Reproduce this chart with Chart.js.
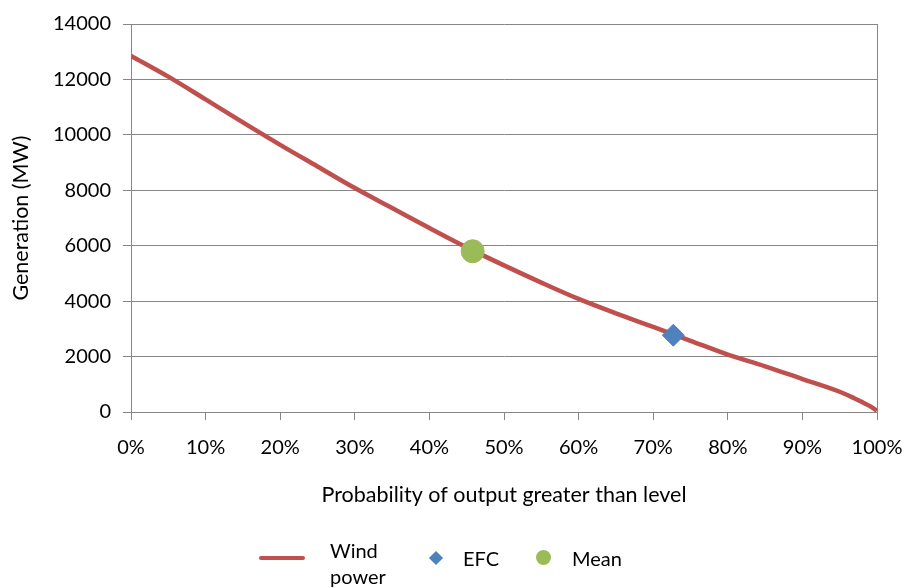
<!DOCTYPE html>
<html>
<head>
<meta charset="utf-8">
<script src="https://cdn.jsdelivr.net/npm/chart.js@4"></script>
<style>
  html, body { margin: 0; padding: 0; background: #fff; }
  #wrap { position: relative; width: 904px; height: 588px; overflow: hidden; font-family: Lato, sans-serif; }
  #legend { position: absolute; left: 0; top: 0; width: 904px; height: 588px; pointer-events: none; color: #000; font-size: 20px; }
  #legend .txt { position: absolute; line-height: 26px; }
  #legend .sw-line { position: absolute; left: 259px; top: 556px; width: 46px; height: 4px; background: #C0504D; border-radius: 2px; }
  #legend .sw-diamond { position: absolute; left: 431px; top: 553px; width: 10px; height: 10px; background: #4F81BD; transform: rotate(45deg); }
  #legend .sw-circle { position: absolute; left: 536px; top: 550px; width: 15px; height: 15px; background: #9BBB59; border-radius: 50%; }
</style>
</head>
<body>
<div id="wrap">
  <canvas id="chart" width="904" height="588"></canvas>
  <div id="legend">
    <div class="sw-line"></div>
    <div class="txt" style="left:330px; top:537px;">Wind<br>power</div>
    <div class="sw-diamond"></div>
    <div class="txt" style="left:463px; top:545px;">EFC</div>
    <div class="sw-circle"></div>
    <div class="txt" style="left:572px; top:545px;">Mean</div>
  </div>
</div>
<script>
// ===== DATA =====
const probPct = [0, 5, 10, 15, 20, 25, 30, 35, 40, 45, 50, 55, 60, 65, 70, 75, 80, 85, 90, 95, 97, 98, 99, 100];
const windMW  = [12850, 12100, 11280, 10450, 9640, 8860, 8080, 7360, 6640, 5940, 5290, 4670, 4080, 3560, 3070, 2570, 2070, 1650, 1190, 730, 490, 360, 220, 50];
const efcPct = [72.7];
const efcMW  = [2770];
const meanPct = [45.8];
const meanMW  = [5800];
const xTicks = [0, 10, 20, 30, 40, 50, 60, 70, 80, 90, 100];
const yTicks = [0, 2000, 4000, 6000, 8000, 10000, 12000, 14000];

const GRID = '#868686';
const FONT = 'Lato';

const pts = (xs, ys) => xs.map((x, i) => ({ x: x, y: ys[i] }));

// right-hand border of the plot area
const rightBorder = {
  id: 'rightBorder',
  afterDraw(chart) {
    const a = chart.chartArea, ctx = chart.ctx;
    ctx.save();
    ctx.strokeStyle = GRID;
    ctx.lineWidth = 1;
    ctx.beginPath();
    ctx.moveTo(Math.round(a.right) + 0.5, a.top);
    ctx.lineTo(Math.round(a.right) + 0.5, a.bottom);
    ctx.stroke();
    ctx.restore();
  }
};

new Chart(document.getElementById('chart'), {
  type: 'scatter',
  data: {
    datasets: [
      {
        label: 'Wind power',
        data: pts(probPct, windMW),
        showLine: true,
        borderColor: '#C0504D',
        borderWidth: 4.5,
        pointRadius: 0,
        cubicInterpolationMode: 'monotone',
        order: 3
      },
      {
        label: 'EFC',
        data: pts(efcPct, efcMW),
        pointStyle: 'rectRot',
        pointRadius: 11,
        backgroundColor: '#4F81BD',
        borderColor: '#4F81BD',
        order: 1
      },
      {
        label: 'Mean',
        data: pts(meanPct, meanMW),
        pointStyle: 'circle',
        pointRadius: 11.5,
        backgroundColor: '#9BBB59',
        borderColor: '#9BBB59',
        order: 2
      }
    ]
  },
  options: {
    responsive: false,
    animation: false,
    layout: { padding: { top: 23, right: 27, bottom: 76, left: 0 } },
    plugins: { legend: { display: false }, tooltip: { enabled: false } },
    scales: {
      x: {
        type: 'linear', min: 0, max: 100,
        afterBuildTicks: s => { s.ticks = xTicks.map(v => ({ value: v })); },
        afterFit: s => { s.height = 100; s.paddingRight = 0; s.paddingLeft = 0; },
        grid: { drawOnChartArea: false, drawTicks: true, tickLength: 8, color: GRID },
        border: { color: GRID },
        ticks: { padding: 16, color: '#000', font: { family: FONT, size: 20 }, callback: v => v + '%' },
        title: { display: true, text: 'Probability of output greater than level', color: '#000', font: { family: FONT, size: 21.5 }, padding: { top: 4, bottom: 4 } }
      },
      y: {
        min: 0, max: 14000,
        afterBuildTicks: s => { s.ticks = yTicks.map(v => ({ value: v })); },
        afterFit: s => { s.width = 131; },
        grid: { color: GRID, drawTicks: true, tickLength: 8 },
        border: { color: GRID },
        ticks: { padding: 12, color: '#000', font: { family: FONT, size: 20 }, callback: v => String(v) },
        title: { display: true, text: 'Generation (MW)', color: '#000', font: { family: FONT, size: 21.5 }, padding: { top: 8, bottom: 0 } }
      }
    }
  },
  plugins: [rightBorder]
});
</script>
</body>
</html>
